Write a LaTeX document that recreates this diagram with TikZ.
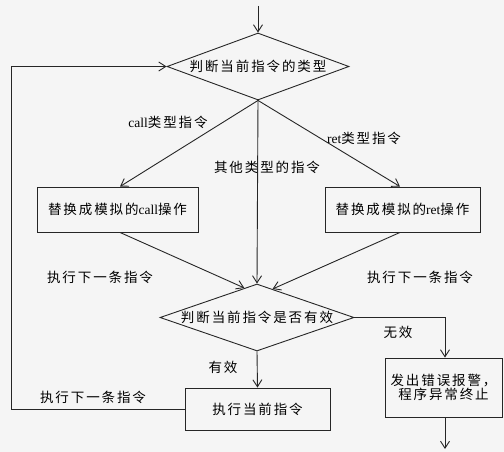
\documentclass[tikz,border=0pt]{standalone}
\usepackage{fontspec}
\setmainfont{Liberation Serif}
\newfontfamily\cjk[LetterSpace=14]{Noto Sans CJK SC}
\usetikzlibrary{shapes.geometric,arrows.meta,calc}
\tikzset{
  every node/.style={font=\fontsize{13.5}{15}\selectfont},
  line/.style={draw=black!85, line width=0.9pt},
  arr/.style={line, -{Straight Barb[length=7pt,width=9pt]}},
  box/.style={line, rectangle, inner sep=0pt},
  dec/.style={line, diamond, inner sep=0pt},
  lbl/.style={inner sep=1pt},
}
\begin{document}
\begin{tikzpicture}[x=1pt,y=-1pt]
\fill[black!4] (0,0) rectangle (504,452);
\useasboundingbox (0,0) rectangle (504,452);
% nodes
\coordinate (start) at (258,6);
\node[dec, minimum width=182pt, minimum height=67pt,
      label={center:{\cjk 判断当前指令的类型}}] (d1) at (258,66.5) {};
\node[box, minimum width=161pt, minimum height=45pt] (callbox) at (117.5,209.5)
  {{\cjk 替换成模拟的}call{\cjk 操作}};
\node[box, minimum width=155pt, minimum height=45pt] (retbox) at (402.5,209.5)
  {{\cjk 替换成模拟的}ret{\cjk 操作}};
\node[dec, minimum width=194pt, minimum height=67pt,
      label={center:{\cjk 判断当前指令是否有效}}] (d2) at (257,317.5) {};
\node[box, minimum width=145pt, minimum height=42pt] (exec) at (257.5,409)
  {\cjk 执行当前指令};
\node[box, minimum width=117pt, minimum height=59pt, align=center] (err) at (443.5,387.5)
  {\cjk 发出错误报警，\\[-1pt]\cjk 程序异常终止};
\coordinate (end) at (445,449);
\coordinate (loopc) at (11,409);
% labels
\node[lbl] (lcall) at (168,122) {call{\cjk 类型指令}};
\node[lbl] (lret) at (364,138) {ret{\cjk 类型指令}};
\node[lbl] (loth) at (267,167) {\cjk 其他类型的指令};
\node[lbl] (lnl) at (100,277) {\cjk 执行下一条指令};
\node[lbl] (lnr) at (420,277) {\cjk 执行下一条指令};
\node[lbl] (linv) at (398,332) {\cjk 无效};
\node[lbl] (lval) at (223,367) {\cjk 有效};
\node[lbl] (lloop) at (93,397) {\cjk 执行下一条指令};
% connectors
\draw[arr] (start) -- (d1.north);
\draw[arr] (d1.south) -- ($(callbox.north)+(2.5,0)$);
\draw[arr] (d1.south) -- ($(retbox.north)+(-2.5,0)$);
\draw[arr] (d1.south) -- (d2.north);
\draw[arr] ($(callbox.south)+(2.5,0)$) -- ($(d2.north)!0.13!(d2.west)$);
\draw[arr] ($(retbox.south)+(-2.5,0)$) -- ($(d2.north)!0.16!(d2.east)$);
\draw[arr] (d2.east) -| ($(err.north)+(1.5,0)$);
\draw[arr] (d2.south) -- (exec.north);
\draw[arr] (exec.west) -- (loopc) |- (d1.west);
\draw[arr] ($(err.south)+(1.5,0)$) -- (end);
\end{tikzpicture}
\end{document}
